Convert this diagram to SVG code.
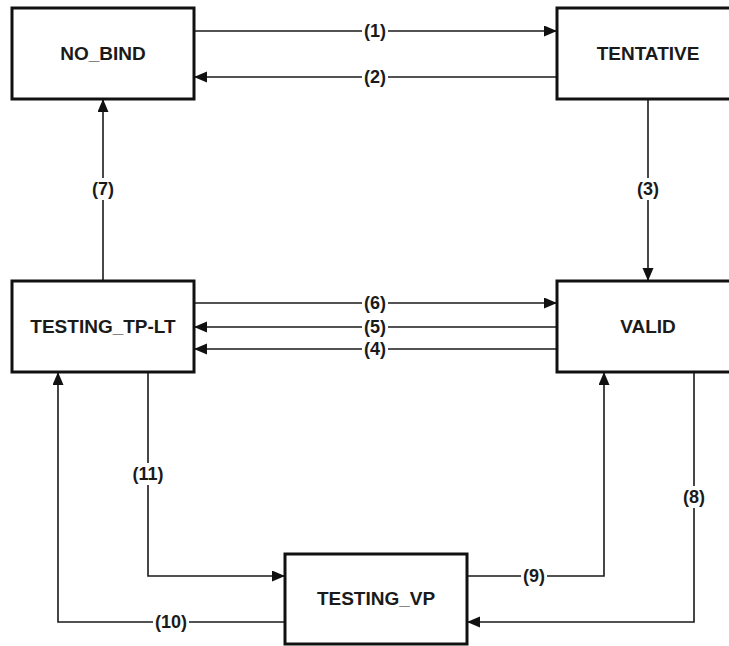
<svg xmlns="http://www.w3.org/2000/svg" width="729" height="646" viewBox="0 0 729 646">
<style>
.box{fill:#fff;stroke:#111;stroke-width:3}
.nt{font-family:"Liberation Sans",Arial,sans-serif;font-weight:bold;font-size:19px;fill:#1a1a1a;text-anchor:middle;dominant-baseline:central}
.ln{fill:none;stroke:#1a1a1a;stroke-width:1.6;marker-end:url(#ah)}
.lb{font-family:"Liberation Sans",Arial,sans-serif;font-weight:bold;font-size:18px;fill:#1a1a1a;text-anchor:middle;dominant-baseline:central}
.bg{fill:#fff}
</style>
<defs>
<marker id="ah" markerUnits="userSpaceOnUse" markerWidth="14" markerHeight="12" refX="13" refY="5.5" orient="auto">
<path d="M0,0 L13,5.5 L0,11 Z" fill="#111"/>
</marker>
</defs>
<rect width="729" height="646" fill="#fff"/>
<g id="connectors">
<path class="ln" d="M194,31 H557"/>
<path class="ln" d="M557,77 H194"/>
<path class="ln" d="M648,99 V281"/>
<path class="ln" d="M103,281 V99"/>
<path class="ln" d="M194,303 H557"/>
<path class="ln" d="M557,327 H194"/>
<path class="ln" d="M557,349 H194"/>
<path class="ln" d="M148,372 V576 H285"/>
<path class="ln" d="M285,622 H58 V372"/>
<path class="ln" d="M467,576 H604 V372"/>
<path class="ln" d="M694,372 V622 H467"/>
<g id="labels">
<rect class="bg" x="362" y="22" width="26" height="18"/><text class="lb" x="375" y="31">(1)</text>
<rect class="bg" x="362" y="68" width="26" height="18"/><text class="lb" x="375" y="77">(2)</text>
<rect class="bg" x="635" y="178" width="26" height="22"/><text class="lb" x="648" y="189">(3)</text>
<rect class="bg" x="90" y="178" width="26" height="22"/><text class="lb" x="103" y="189">(7)</text>
<rect class="bg" x="362" y="294" width="26" height="18"/><text class="lb" x="375" y="303">(6)</text>
<rect class="bg" x="362" y="318" width="26" height="18"/><text class="lb" x="375" y="327">(5)</text>
<rect class="bg" x="362" y="340" width="26" height="18"/><text class="lb" x="375" y="349">(4)</text>
<rect class="bg" x="130" y="463" width="36" height="22"/><text class="lb" x="148" y="474">(11)</text>
<rect class="bg" x="153" y="613" width="36" height="18"/><text class="lb" x="171" y="622">(10)</text>
<rect class="bg" x="521" y="567" width="26" height="18"/><text class="lb" x="534" y="576">(9)</text>
<rect class="bg" x="681" y="486" width="26" height="22"/><text class="lb" x="694" y="497">(8)</text>
</g>
</g>
<g id="no_bind"><rect class="box" x="12" y="8" width="182" height="91"/><text class="nt" x="103" y="53">NO_BIND</text></g>
<g id="tentative"><rect class="box" x="557" y="8" width="182" height="91"/><text class="nt" x="648" y="53">TENTATIVE</text></g>
<g id="testing_tp_lt"><rect class="box" x="12" y="281" width="182" height="91"/><text class="nt" x="103" y="326">TESTING_TP-LT</text></g>
<g id="valid"><rect class="box" x="557" y="281" width="182" height="91"/><text class="nt" x="648" y="326">VALID</text></g>
<g id="testing_vp"><rect class="box" x="285" y="554" width="182" height="90"/><text class="nt" x="376" y="598">TESTING_VP</text></g>
</svg>
